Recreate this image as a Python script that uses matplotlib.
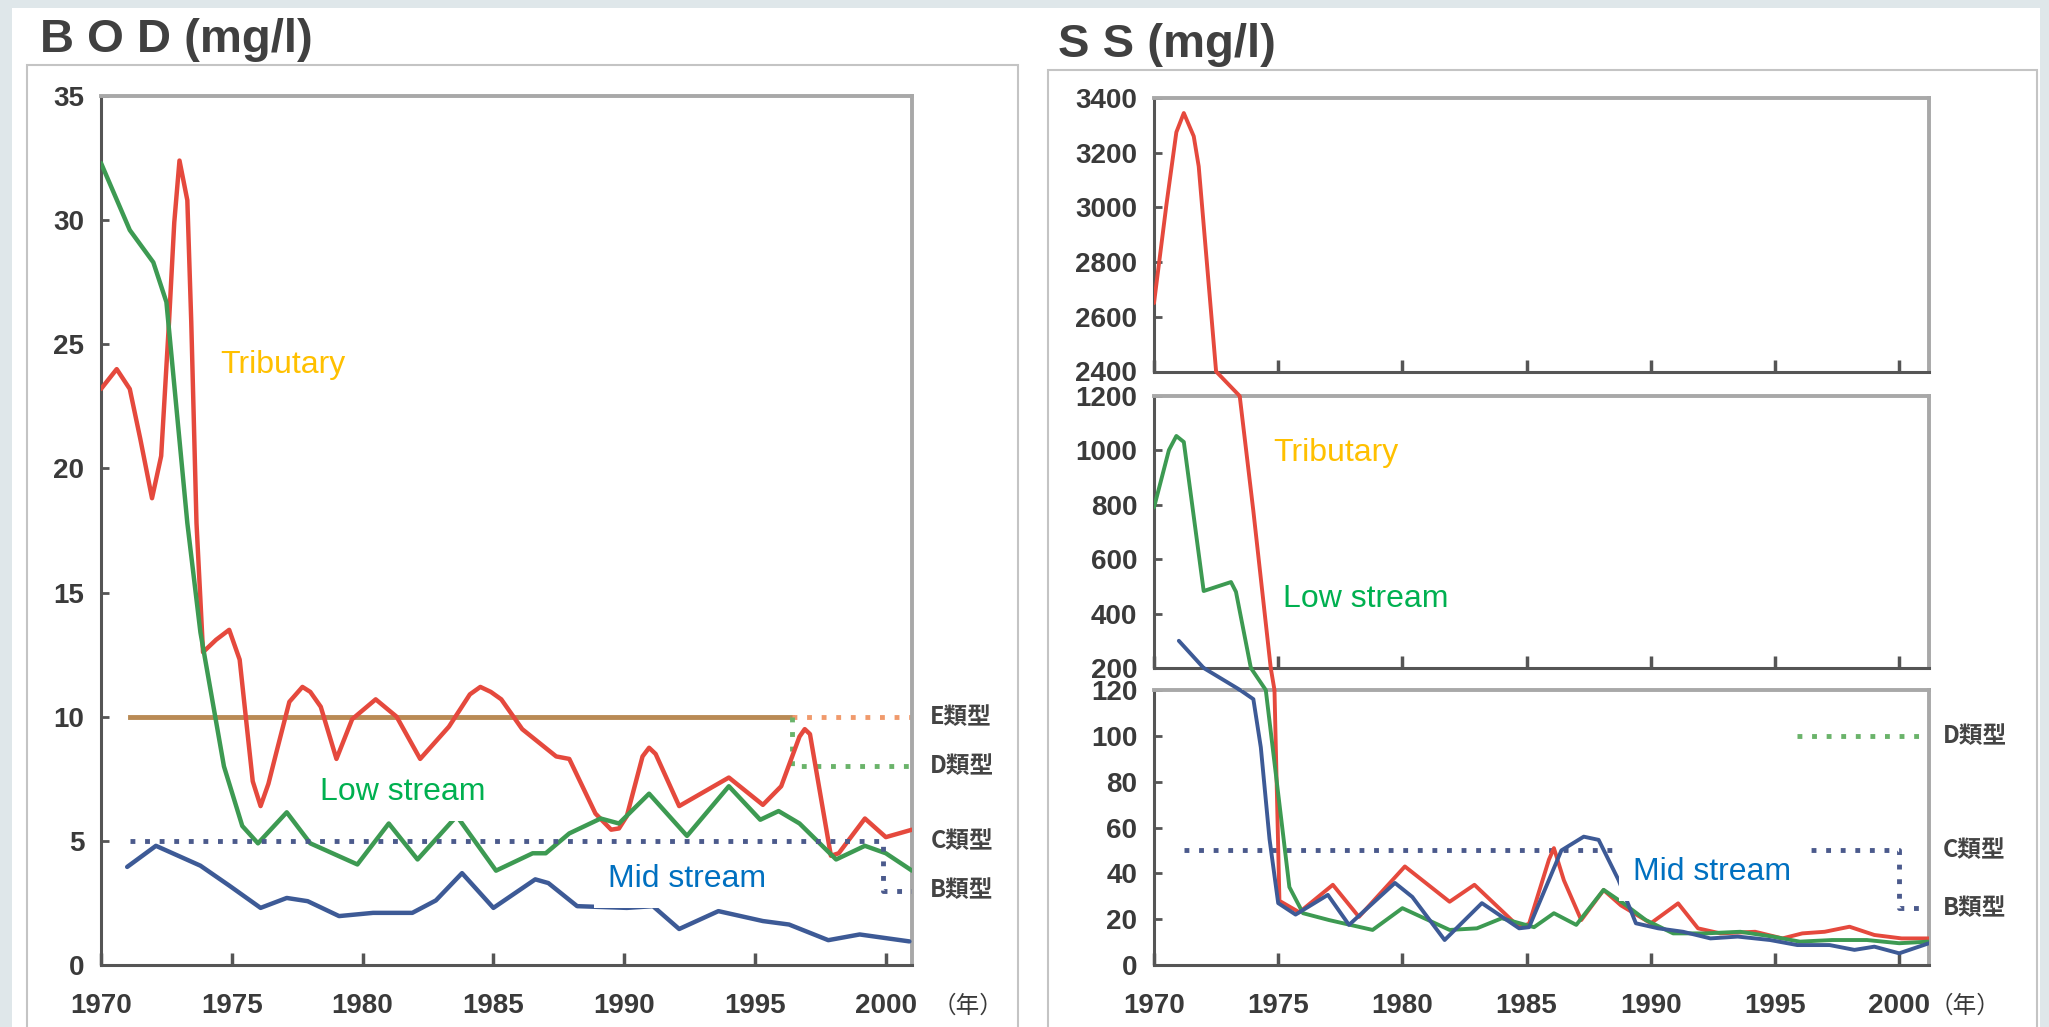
import matplotlib.pyplot as plt
from matplotlib.patches import Rectangle, ConnectionPatch

# ---- BOD (mg/l) ----
bod_trib_x = [1970.0, 1970.6, 1971.1, 1971.5, 1971.95, 1972.3, 1972.6, 1972.8, 1973.0, 1973.3,
              1973.45, 1973.65, 1973.8, 1973.9, 1974.4, 1974.9, 1975.3, 1975.6, 1975.8, 1976.1,
              1976.4, 1976.7, 1977.2, 1977.7, 1978.0, 1978.4, 1979.0, 1979.6, 1980.5, 1981.3,
              1982.2, 1983.3, 1984.1, 1984.5, 1984.9, 1985.3, 1986.1, 1987.4, 1987.9, 1988.9,
              1989.5, 1989.8, 1990.1, 1990.7, 1990.95, 1991.2, 1992.1, 1994.0, 1995.3, 1996.0,
              1996.7, 1996.9, 1997.1, 1997.9, 1998.2, 1999.2, 2000.0, 2001.0]
bod_trib_y = [23.2, 24.0, 23.2, 21.2, 18.8, 20.5, 25.9, 29.9, 32.4, 30.8,
              25.9, 17.8, 14.7, 12.6, 13.1, 13.5, 12.3, 9.35, 7.4, 6.4,
              7.3, 8.55, 10.6, 11.2, 11.0, 10.4, 8.3, 9.9, 10.7, 10.0,
              8.3, 9.6, 10.9, 11.2, 11.0, 10.7, 9.5, 8.4, 8.3, 6.1,
              5.45, 5.5, 6.0, 8.4, 8.75, 8.5, 6.4, 7.55, 6.45, 7.2,
              9.2, 9.5, 9.3, 4.4, 4.5, 5.9, 5.15, 5.45]

bod_low_x = [1970.0, 1971.1, 1972.0, 1972.5, 1973.3, 1973.8, 1974.7, 1975.4, 1976.0, 1977.1,
             1978.0, 1979.8, 1981.0, 1982.1, 1983.6, 1985.1, 1986.5, 1987.0, 1987.9, 1989.1,
             1989.8, 1990.95, 1992.4, 1994.0, 1995.2, 1995.9, 1996.7, 1998.1, 1999.2, 2000.0,
             2001.0]
bod_low_y = [32.3, 29.6, 28.3, 26.7, 17.8, 13.4, 8.0, 5.6, 4.9, 6.15,
             4.9, 4.05, 5.7, 4.25, 6.0, 3.8, 4.5, 4.5, 5.3, 5.9,
             5.7, 6.9, 5.2, 7.2, 5.85, 6.2, 5.7, 4.25, 4.8, 4.5,
             3.8]

bod_mid_x = [1971.0, 1972.1, 1973.8, 1974.9, 1976.1, 1977.1, 1977.9, 1979.1, 1980.4, 1981.9,
             1982.8, 1983.8, 1985.0, 1986.6, 1987.1, 1988.2, 1990.1, 1991.1, 1992.1, 1993.6,
             1995.3, 1996.3, 1997.8, 1999.0, 2000.9]
bod_mid_y = [3.95, 4.8, 4.0, 3.2, 2.3, 2.7, 2.57, 1.97, 2.1, 2.1,
             2.6, 3.7, 2.3, 3.45, 3.3, 2.37, 2.3, 2.37, 1.45, 2.17,
             1.77, 1.63, 1.0, 1.23, 0.95]

# environmental standards (類型)
bod_start, bod_de_x, bod_cb_x, bod_end = 1971.1, 1996.4, 1999.9, 2001.0
bod_std = {'E': 10, 'D': 8, 'C': 5, 'B': 3}

# ---- SS (mg/l) ----
ss_trib_x = [1970.0, 1970.5, 1970.9, 1971.2, 1971.6, 1971.8, 1972.5, 1973.45, 1974.0, 1974.7,
             1974.85, 1975.05, 1975.85, 1977.2, 1978.25, 1980.1, 1981.9, 1982.9, 1984.7, 1985.1,
             1985.9, 1986.1, 1986.5, 1987.2, 1988.1, 1988.8, 1990.0, 1991.1, 1991.9, 1992.8,
             1994.2, 1995.3, 1996.1, 1997.0, 1998.0, 1999.0, 2000.1, 2001.2]
ss_trib_y = [2650, 3010, 3275, 3345, 3260, 3150, 2400, 1200, 777, 200,
             120, 28, 23, 35, 21, 43, 27.6, 35, 16.5, 18,
             46, 51, 37, 19.6, 32.7, 26, 18.2, 26.9, 16, 13.8,
             14.5, 11.6, 13.8, 14.5, 16.7, 13.1, 11.6, 11.6]

ss_low_x = [1970.0, 1970.6, 1970.9, 1971.2, 1972.0, 1973.1, 1973.3, 1973.9, 1974.5, 1975.45,
            1976.0, 1977.05, 1978.8, 1980.0, 1981.9, 1983.0, 1984.0, 1985.3, 1986.1, 1987.0,
            1988.1, 1988.9, 1989.8, 1990.9, 1992.2, 1993.6, 1994.9, 1996.0, 1997.3, 1998.7,
            2000.0, 2001.2]
ss_low_y = [790, 1001, 1053, 1031, 483, 516, 480, 200, 120, 34,
            22.6, 19.6, 15.3, 24.8, 15.3, 16, 20.4, 16.5, 22.6, 17.5,
            32.8, 26.9, 19.6, 13.8, 13.8, 14.5, 12.4, 10.2, 10.9, 10.9,
            9.5, 10.2]

ss_mid_x = [1971.0, 1972.0, 1973.2, 1974.0, 1974.3, 1974.65, 1975.0, 1975.7, 1977.0, 1977.85,
            1979.7, 1980.4, 1981.7, 1983.2, 1984.7, 1985.1, 1986.4, 1987.3, 1987.9, 1988.7,
            1989.4, 1990.3, 1991.3, 1992.4, 1993.5, 1994.8, 1995.9, 1997.2, 1998.2, 1999.0,
            2000.0, 2001.2]
ss_mid_y = [300, 200, 122, 116, 95, 55, 27, 22, 30.6, 17.5,
            35.8, 29.7, 10.9, 27, 16, 16.5, 50, 56, 54.6, 37.1,
            18.2, 16, 14.5, 11.6, 12.4, 10.9, 8.7, 8.7, 6.6, 8.0,
            5.1, 9.5]

ss_start, ss_d_x, ss_cb_x, ss_end = 1971.2, 1995.9, 2000.0, 2001.2
ss_std = {'D': 100, 'C': 50, 'B': 25}

years = [1970, 1975, 1980, 1985, 1990, 1995, 2000]

RED, GREEN, BLUE = '#e5493d', '#3d9a52', '#3d5a96'
DOT_BLUE, DOT_GREEN, DOT_ORANGE, E_SOLID = '#4b5a8c', '#6ab36a', '#f09a6c', '#b98a55'
TXT = '#3a3a3a'
CJK = ['Noto Sans CJK JP', 'DejaVu Sans']
LAB = ['Liberation Sans', 'DejaVu Sans']
DOT = (0, (1, 2))

plt.rcParams['font.family'] = ['Liberation Sans Narrow', 'Liberation Sans', 'DejaVu Sans']

W, H = 2049, 1027
fig = plt.figure(figsize=(W / 100, H / 100), dpi=100, facecolor='white')


def fx(x):
    return x / W


def fy(y):
    return 1 - y / H


def box(x0, y0, x1, y1):
    return [fx(x0), fy(y1), fx(x1) - fx(x0), fy(y0) - fy(y1)]


# page decoration
for r in [(0, 0, W, 8), (0, 0, 12, H), (2040, 0, 9, H)]:
    fig.add_artist(Rectangle((fx(r[0]), fy(r[1] + r[3])), r[2] / W, r[3] / H,
                             transform=fig.transFigure, facecolor='#dfe7ea',
                             edgecolor='none', zorder=-5))
for x0, y0, x1 in [(27, 65, 1018), (1048, 70, 2037)]:
    fig.add_artist(Rectangle((fx(x0), -0.01), fx(x1) - fx(x0), fy(y0) + 0.01,
                             transform=fig.transFigure, facecolor='white',
                             edgecolor='#c4c4c4', lw=1.5, zorder=-4))

fig.text(fx(40), fy(40), 'B O D (mg/l)', fontsize=34, color='#404040', va='center',
         family=LAB, fontweight='bold')
fig.text(fx(1058), fy(45), 'S S (mg/l)', fontsize=34, color='#404040', va='center',
         family=LAB, fontweight='bold')

LINE_KW = dict(solid_joinstyle='round', solid_capstyle='round', zorder=3)


def style(ax, xlim, show_x=True):
    ax.set_xlim(*xlim)
    for s in ['left', 'bottom']:
        ax.spines[s].set_color('#555555')
        ax.spines[s].set_linewidth(2.2)
    for s in ['top', 'right']:
        ax.spines[s].set_color('#a8a8a8')
        ax.spines[s].set_linewidth(2.8)
    ax.set_xticks(years)
    ax.set_xticklabels([str(y) for y in years] if show_x else [])
    ax.tick_params(axis='x', direction='in', length=9, width=2.5, color='#555555',
                   pad=20, labelsize=20, labelcolor=TXT)
    ax.tick_params(axis='y', direction='in', length=6, width=2, color='#555555',
                   pad=12, labelsize=20, labelcolor=TXT)
    for lbl in ax.get_xticklabels() + ax.get_yticklabels():
        lbl.set_fontweight('bold')


# ---------------- BOD panel ----------------
ax = fig.add_axes(box(101, 96, 912, 965))
style(ax, (1970, 2001))
ax.set_ylim(0, 35)
ax.set_yticks(range(0, 36, 5))
for lbl in ax.get_yticklabels():
    lbl.set_fontweight('bold')

ax.plot([bod_start, bod_de_x], [bod_std['E']] * 2, color=E_SOLID, lw=3.5, zorder=2)
ax.plot([bod_de_x, bod_end], [bod_std['E']] * 2, color=DOT_ORANGE, lw=3.5, ls=DOT, zorder=2)
ax.plot([bod_de_x, bod_de_x, bod_end], [bod_std['E'], bod_std['D'], bod_std['D']],
        color=DOT_GREEN, lw=3.5, ls=DOT, zorder=2)
ax.plot([bod_start, bod_cb_x, bod_cb_x, bod_end],
        [bod_std['C'], bod_std['C'], bod_std['B'], bod_std['B']],
        color=DOT_BLUE, lw=3.5, ls=DOT, zorder=4)

ax.plot(bod_trib_x, bod_trib_y, color=RED, lw=3.2, **LINE_KW)
ax.plot(bod_low_x, bod_low_y, color=GREEN, lw=3.2, **LINE_KW)
ax.plot(bod_mid_x, bod_mid_y, color=BLUE, lw=3.2, **LINE_KW)

for k, v in bod_std.items():
    ax.text(2001.7, v, k + '類型', fontsize=17, fontweight='bold', color='#444444',
            va='center', ha='left', family=CJK, clip_on=False)

fig.text(fx(933), fy(1006), '（年）', fontsize=17, color=TXT, va='center', family=CJK)

lbl_kw = dict(fontsize=23, family=LAB, va='baseline', zorder=10)
bb = dict(boxstyle='square,pad=0.45', facecolor='white', edgecolor='none')
fig.text(fx(220), fy(373), 'Tributary', color='#ffc000', bbox=bb, **lbl_kw)
fig.text(fx(320), fy(800), 'Low stream', color='#00b050', bbox=bb, **lbl_kw)
fig.text(fx(608), fy(887), 'Mid stream', color='#0070c0', bbox=bb, **lbl_kw)

# ---------------- SS panel (broken axis) ----------------
ax_top = fig.add_axes(box(1154, 98, 1929, 371.5))
ax_mid = fig.add_axes(box(1154, 396, 1929, 668))
ax_bot = fig.add_axes(box(1154, 690, 1929, 965))
panels = [(ax_top, (2400, 3400), range(2400, 3401, 200)),
          (ax_mid, (200, 1200), range(200, 1201, 200)),
          (ax_bot, (0, 120), range(0, 121, 20))]
series = [(ss_trib_x, ss_trib_y, RED), (ss_low_x, ss_low_y, GREEN), (ss_mid_x, ss_mid_y, BLUE)]

for a, lim, ticks in panels:
    style(a, (1970.1, 2001.2), show_x=(a is ax_bot))
    a.set_ylim(*lim)
    a.set_yticks(list(ticks))
    for lbl in a.get_yticklabels():
        lbl.set_fontweight('bold')
    for xs, ys, c in series:
        a.plot(xs, ys, color=c, lw=2.8, **LINE_KW)


def crossing(xs, ys, level):
    for i in range(len(xs) - 1):
        if ys[i] >= level > ys[i + 1]:
            t = (ys[i] - level) / (ys[i] - ys[i + 1])
            return xs[i] + t * (xs[i + 1] - xs[i])
    return None


# lines continue across the gaps between the stacked axes
for (ua, ulim, _), (la, llim, _) in [(panels[0], panels[1]), (panels[1], panels[2])]:
    for xs, ys, c in series:
        xa, xb = crossing(xs, ys, ulim[0]), crossing(xs, ys, llim[1])
        if xa is None or xb is None or max(ys) < ulim[0]:
            continue
        fig.add_artist(ConnectionPatch((xa, ulim[0]), (xb, llim[1]), 'data', 'data',
                                       axesA=ua, axesB=la, color=c, lw=2.8))

ax_bot.plot([ss_d_x, ss_end], [ss_std['D']] * 2, color=DOT_GREEN, lw=3.5, ls=DOT, zorder=2)
ax_bot.plot([ss_start, ss_cb_x, ss_cb_x, ss_end],
            [ss_std['C'], ss_std['C'], ss_std['B'], ss_std['B']],
            color=DOT_BLUE, lw=3.5, ls=DOT, zorder=2)
for k, v in ss_std.items():
    ax_bot.text(2001.75, v, k + '類型', fontsize=17, fontweight='bold', color='#444444',
                va='center', ha='left', family=CJK, clip_on=False)

fig.text(fx(1930), fy(1006), '（年）', fontsize=17, color=TXT, va='center', family=CJK)

fig.text(fx(1273), fy(461), 'Tributary', color='#ffc000', bbox=bb, **lbl_kw)
fig.text(fx(1283), fy(607), 'Low stream', color='#00b050', bbox=bb, **lbl_kw)
fig.text(fx(1633), fy(880), 'Mid stream', color='#0070c0', bbox=bb, **lbl_kw)

fig.savefig('out.png', dpi=100, facecolor='white')
